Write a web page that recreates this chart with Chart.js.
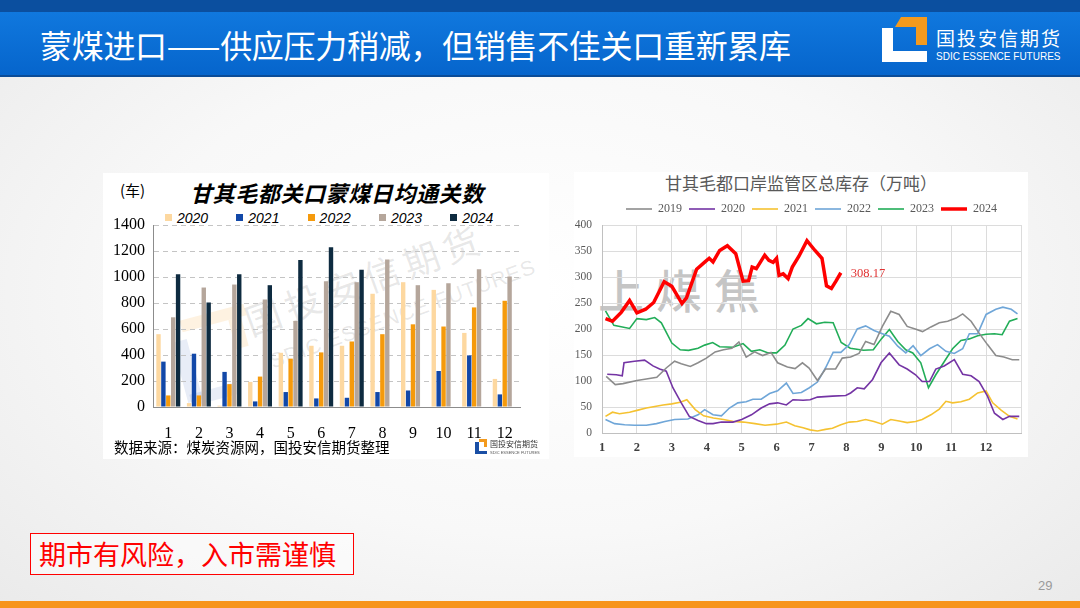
<!DOCTYPE html>
<html>
<head>
<meta charset="utf-8">
<script src="https://cdn.jsdelivr.net/npm/chart.js@4.4.1/dist/chart.umd.min.js"></script>
<style>
  body { margin: 0; width: 1080px; height: 608px; overflow: hidden; position: relative;
    font-family: "Noto Sans CJK SC", sans-serif;
    background: radial-gradient(ellipse 75% 80% at 50% 48%, #ffffff 0%, #f8f8f8 50%, #e8e8e8 100%); }
  .abs { position: absolute; }
  .hdrTop { left: 0; top: 0; width: 1080px; height: 12px; background: #0b4f9f; }
  .hdr { left: 0; top: 12px; width: 1080px; height: 63px; background: linear-gradient(#1078de, #0665cc); border-bottom: 2px solid #0a4c98; }
  .hdrTitle { left: 40px; top: 25px; color: #fff; font-size: 32px; line-height: 38px; white-space: nowrap; letter-spacing: -0.3px; }
  .panel { background: #fff; }
  .wm { color: rgba(110,110,110,0.16); white-space: nowrap; transform-origin: center; }
  .lg { position: absolute; top: 210px; height: 16px; white-space: nowrap;
    font-family: 'Liberation Sans'; font-style: italic; font-size: 14px; line-height: 16px; color: #000; }
  .lg i { display: inline-block; width: 7px; height: 7px; margin-right: 5px; vertical-align: 2px; }
</style>
</head>
<body>
<div class="abs hdrTop"></div>
<div class="abs hdr"></div>
<div class="abs hdrTitle">蒙煤进口——供应压力稍减，但销售不佳关口重新累库</div>

<!-- header logo -->
<div class="abs" style="left:882px;top:28px;width:11px;height:34px;background:#fff"></div>
<div class="abs" style="left:882px;top:51px;width:45px;height:11px;background:#fff"></div>
<div class="abs" style="left:895px;top:17px;width:32px;height:10px;background:#f39a1e;clip-path:polygon(6px 0,100% 0,100% 100%,0 100%)"></div>
<div class="abs" style="left:916px;top:17px;width:11px;height:28px;background:#f39a1e"></div>
<div class="abs" style="left:936px;top:26px;color:#fff;font-size:19px;line-height:24px;letter-spacing:2px;white-space:nowrap">国投安信期货</div>
<div class="abs" style="left:936px;top:49px;color:#fff;font-family:'Liberation Sans';font-size:11.5px;line-height:14px;white-space:nowrap;transform:scaleX(0.87);transform-origin:left">SDIC ESSENCE FUTURES</div>

<!-- left panel -->
<div class="abs panel" style="left:103px;top:173px;width:446px;height:286px"></div>
<div class="abs wm" style="left:238px;top:252px;font-size:36px;letter-spacing:6px;transform:rotate(-20deg)">国投安信期货</div>
<div class="abs wm" style="left:262px;top:302px;font-family:'Liberation Sans';font-size:21px;letter-spacing:1px;transform:rotate(-20deg)">SDIC ESSENCE FUTURES</div>
<div class="abs" style="left:180px;top:312px;width:66px;height:12px;background:rgba(245,160,40,0.14);transform:rotate(-15deg)"></div>
<div class="abs" style="left:232px;top:318px;width:13px;height:30px;background:rgba(245,160,40,0.14);transform:rotate(-15deg)"></div>
<div class="abs" style="left:180px;top:340px;width:15px;height:62px;background:rgba(30,80,180,0.10);transform:rotate(-15deg)"></div>
<div class="abs" style="left:190px;top:388px;width:50px;height:12px;background:rgba(30,80,180,0.10);transform:rotate(-15deg)"></div>
<div class="abs" style="left:120px;top:180px;font-size:15px;line-height:20px;color:#000">(车)</div>
<div class="abs" style="left:190px;top:178px;font-size:22px;line-height:28px;font-weight:bold;font-style:italic;letter-spacing:0.6px;color:#000;white-space:nowrap">甘其毛都关口蒙煤日均通关数</div>
<div id="passLegend"></div>
<canvas id="passChart" class="abs" width="446" height="240" style="left:103px;top:200px"></canvas>
<div class="abs" style="left:114px;top:437px;font-size:14.5px;line-height:20px;color:#000;white-space:nowrap">数据来源：煤炭资源网，国投安信期货整理</div>
<div class="abs" style="left:475px;top:442px;width:4px;height:12px;background:#1a4fa5"></div>
<div class="abs" style="left:475px;top:451px;width:12px;height:3px;background:#1a4fa5"></div>
<div class="abs" style="left:479px;top:439px;width:8px;height:3px;background:#f39a1e"></div>
<div class="abs" style="left:484px;top:439px;width:3px;height:8px;background:#f39a1e"></div>
<div class="abs" style="left:490px;top:439px;font-size:8px;line-height:10px;color:#333;white-space:nowrap">国投安信期货</div>
<div class="abs" style="left:490px;top:450px;font-family:'Liberation Sans';font-size:4px;line-height:5px;color:#555;white-space:nowrap">SDIC ESSENCE FUTURES</div>

<!-- right panel -->
<div class="abs panel" style="left:574px;top:172px;width:454px;height:285px"></div>
<div class="abs" style="left:598px;top:258px;font-size:46px;line-height:60px;font-weight:500;letter-spacing:12px;color:rgba(140,140,140,0.5);white-space:nowrap">上煤焦</div>
<div class="abs" style="left:574px;top:171px;width:454px;text-align:center;font-size:17px;line-height:24px;color:#595959;white-space:nowrap">甘其毛都口岸监管区总库存（万吨）</div>
<canvas id="stockChart" class="abs" width="454" height="261" style="left:574px;top:196px"></canvas>

<!-- footer -->
<div class="abs" style="left:30px;top:533px;width:322px;height:40px;border:1.5px solid #ff0000;background:rgba(255,255,255,0.5)"></div>
<div class="abs" style="left:39px;top:536px;font-size:27px;line-height:36px;color:#ff0000;white-space:nowrap">期市有风险，入市需谨慎</div>
<div class="abs" style="left:1038px;top:578px;font-family:'Liberation Sans';font-size:13px;color:#9a9a9a">29</div>
<div class="abs" style="left:0;top:601px;width:1080px;height:7px;background:#f7941d"></div>

<script>
// 日均通关数（车）
const months = ['1', '2', '3', '4', '5', '6', '7', '8', '9', '10', '11', '12'];
const passYears = ['2020', '2021', '2022', '2023', '2024'];
const pass2020 = [560, 30, 10, 193, 417, 471, 471, 871, 960, 901, 570, 216];
const pass2021 = [349, 410, 270, 43, 115, 66, 71, 115, 127, 277, 397, 97];
const pass2022 = [89, 89, 176, 234, 372, 420, 504, 560, 636, 619, 766, 817];
const pass2023 = [690, 919, 942, 827, 662, 967, 960, 1135, 937, 952, 1059, 1003];
const pass2024 = [1021, 804, 1021, 937, 1130, 1229, 1056, null, null, null, null, null];
const passColors = ['#fdd8a0', '#1248a8', '#f59a0c', '#b5a69b', '#0e2b40'];

// 监管区总库存（万吨），[月份位置, 库存]
const stockYears = ['2019', '2020', '2021', '2022', '2023', '2024'];
const stock2019 = [[1.12,109],[1.38,93],[1.6,95],[2.0,101],[2.27,104],[2.57,107],[2.84,125],[3.08,138],[3.27,133],[3.53,128],[3.75,135],[3.99,144],[4.24,156],[4.48,160],[4.72,163],[4.92,175],[5.13,146],[5.37,156],[5.6,149],[5.84,155],[6.03,135],[6.31,127],[6.53,124],[6.74,135],[6.93,125],[7.17,101],[7.4,123],[7.69,123],[7.88,144],[8.12,146],[8.36,153],[8.55,176],[8.79,170],[9.03,205],[9.27,234],[9.51,228],[9.74,205],[9.97,200],[10.18,195],[10.42,204],[10.66,212],[10.9,215],[11.14,221],[11.33,229],[11.57,215],[11.8,192],[12.04,170],[12.28,149],[12.51,146],[12.75,141],[12.95,141]];
const stock2020 = [[1.15,113],[1.41,112],[1.58,110],[1.63,135],[1.93,138],[2.22,140],[2.46,129],[2.65,123],[2.84,119],[3.03,87],[3.27,58],[3.5,32],[3.75,24],[3.99,18],[4.18,18],[4.42,21],[4.75,21],[5.0,26],[5.28,35],[5.56,48],[5.8,56],[6.03,58],[6.28,54],[6.47,64],[6.76,63],[6.96,64],[7.17,69],[7.6,71],[7.98,72],[8.12,77],[8.31,87],[8.51,85],[8.75,103],[8.99,135],[9.23,154],[9.51,131],[9.74,123],[9.98,112],[10.17,99],[10.38,99],[10.56,123],[10.8,129],[11.09,141],[11.33,113],[11.57,110],[11.8,99],[12.04,71],[12.24,38],[12.48,26],[12.67,32],[12.95,32]];
const stock2021 = [[1.1,32],[1.3,40],[1.5,37],[1.79,40],[2.03,44],[2.27,48],[2.51,51],[2.75,54],[3.0,56],[3.24,59],[3.43,64],[3.67,45],[3.91,33],[4.19,29],[4.48,26],[4.77,22],[5.05,21],[5.38,18],[5.67,15],[6.0,17],[6.28,21],[6.52,14],[6.76,10],[6.96,6],[7.17,4],[7.4,7],[7.6,9],[7.84,16],[8.08,21],[8.31,22],[8.55,26],[8.79,22],[9.03,17],[9.27,26],[9.51,23],[9.74,20],[9.98,22],[10.17,26],[10.42,35],[10.66,46],[10.85,61],[11.04,58],[11.28,60],[11.52,65],[11.76,77],[12.0,81],[12.19,58],[12.43,44],[12.67,32],[12.9,27]];
const stock2022 = [[1.1,26],[1.36,18],[1.65,16],[1.93,15],[2.27,15],[2.56,18],[2.8,22],[3.08,26],[3.46,27],[3.75,35],[3.94,45],[4.18,35],[4.42,33],[4.65,48],[4.89,58],[5.13,60],[5.32,65],[5.56,65],[5.8,76],[6.03,81],[6.28,96],[6.47,76],[6.71,78],[6.94,87],[7.17,98],[7.4,125],[7.62,155],[7.84,155],[8.08,170],[8.31,200],[8.55,206],[8.79,197],[9.03,191],[9.23,186],[9.47,167],[9.7,154],[9.91,168],[10.13,149],[10.38,162],[10.61,170],[10.85,157],[11.09,153],[11.33,162],[11.52,191],[11.76,191],[12.0,228],[12.28,238],[12.48,242],[12.72,238],[12.9,229]];
const stock2023 = [[1.1,235],[1.34,207],[1.79,201],[2.0,220],[2.27,218],[2.51,222],[2.7,212],[3.0,173],[3.24,160],[3.48,159],[3.75,163],[3.94,169],[4.17,174],[4.37,166],[4.75,165],[5.04,172],[5.28,157],[5.52,160],[5.76,154],[6.0,154],[6.24,169],[6.47,200],[6.71,207],[6.9,220],[7.14,210],[7.38,213],[7.62,212],[7.85,174],[8.11,163],[8.49,159],[8.77,160],[9.0,181],[9.23,199],[9.47,176],[9.7,160],[9.9,154],[10.13,135],[10.35,87],[10.56,112],[10.8,137],[11.04,162],[11.28,178],[11.52,181],[11.76,187],[12.0,190],[12.24,191],[12.46,189],[12.67,215],[12.9,220]];
const stock2024 = [[1.1,220],[1.3,215],[1.55,232],[1.79,255],[2.0,231],[2.25,238],[2.48,251],[2.78,291],[3.0,282],[3.29,249],[3.42,260],[3.71,315],[3.95,329],[4.07,336],[4.18,329],[4.37,351],[4.59,360],[4.83,345],[5.04,292],[5.2,293],[5.3,319],[5.42,316],[5.66,342],[5.78,332],[5.9,328],[6.0,336],[6.07,303],[6.19,306],[6.33,297],[6.45,319],[6.64,340],[6.87,370],[7.1,351],[7.3,336],[7.43,283],[7.57,278],[7.7,292],[7.84,308.17]];
const stockColors = ['#8c8c8c', '#7434a4', '#f5c231', '#6fa6d8', '#22ad58', '#ff0000'];
const stockWidths = [1.6, 1.6, 1.6, 1.6, 1.6, 3.5];

const serif = 'Liberation Serif';

// 左图图例
const legendBox = document.getElementById('passLegend');
passYears.forEach((y, i) => {
  const d = document.createElement('div');
  d.className = 'lg';
  d.style.left = (165 + i * 71.3) + 'px';
  d.innerHTML = '<i style="background:' + passColors[i] + '"></i>' + y;
  legendBox.appendChild(d);
});

const passData = [pass2020, pass2021, pass2022, pass2023, pass2024];
new Chart(document.getElementById('passChart'), {
  type: 'bar',
  data: {
    labels: months,
    datasets: passYears.map((y, i) => ({
      label: y,
      data: passData[i],
      backgroundColor: passColors[i],
      categoryPercentage: 0.8,
      barPercentage: 0.9
    }))
  },
  options: {
    responsive: false,
    animation: false,
    layout: { padding: { left: 0, right: 29, top: 25, bottom: 0 } },
    plugins: {
      legend: { display: false },
      tooltip: { enabled: false }
    },
    scales: {
      x: {
        grid: { display: false },
        border: { color: '#8c8c8c' },
        ticks: { color: '#000', padding: 9, font: { family: serif, size: 16 } },
        afterFit: s => { s.height = 33; }
      },
      y: {
        min: 0, max: 1400,
        ticks: { stepSize: 200, padding: 8, color: '#000', font: { family: serif, size: 16 },
          callback: v => String(v) },
        grid: { color: '#c4c4c4', drawTicks: false },
        border: { color: '#8c8c8c', dash: [5, 4] },
        afterFit: s => { s.width = 50; }
      }
    }
  }
});

// 2024 最新值标注
const lastLabel = {
  id: 'lastLabel',
  afterDatasetsDraw(chart) {
    const idx = chart.data.datasets.length - 1;
    const meta = chart.getDatasetMeta(idx);
    const pt = meta.data[meta.data.length - 1];
    const v = stock2024[stock2024.length - 1][1];
    const ctx = chart.ctx;
    ctx.save();
    ctx.font = '12.5px ' + serif;
    ctx.fillStyle = '#e03232';
    ctx.textAlign = 'left';
    ctx.textBaseline = 'middle';
    ctx.fillText(v.toFixed(2), pt.x + 10, pt.y + 1);
    ctx.restore();
  }
};

const stockData = [stock2019, stock2020, stock2021, stock2022, stock2023, stock2024];
new Chart(document.getElementById('stockChart'), {
  type: 'line',
  data: {
    datasets: stockYears.map((y, i) => ({
      label: y,
      data: stockData[i].map(p => ({ x: p[0], y: p[1] })),
      borderColor: stockColors[i],
      backgroundColor: stockColors[i],
      borderWidth: stockWidths[i],
      pointRadius: 0,
      tension: 0,
      order: i === 5 ? -1 : i
    }))
  },
  plugins: [lastLabel],
  options: {
    responsive: false,
    animation: false,
    layout: { padding: { left: 0, right: 7, top: 0, bottom: 0 } },
    plugins: {
      legend: {
        fullSize: false,
        labels: { usePointStyle: true, pointStyle: 'line', pointStyleWidth: 26, boxWidth: 26,
          padding: 7, color: '#595959', font: { family: serif, size: 12 },
          sort: (a, b) => a.datasetIndex - b.datasetIndex }
      },
      tooltip: { enabled: false }
    },
    scales: {
      x: {
        type: 'linear', min: 1, max: 13,
        ticks: { stepSize: 1, padding: 7, color: '#404040', font: { family: serif, size: 12.5, weight: 'bold' },
          callback: v => (v === 13 ? '' : v) },
        grid: { color: '#dcdcdc', drawTicks: false },
        border: { color: '#c0c0c0' },
        afterFit: s => { s.height = 24; }
      },
      y: {
        min: 0, max: 400,
        ticks: { stepSize: 50, padding: 10, color: '#595959', font: { family: serif, size: 11.5 } },
        grid: { color: '#dcdcdc', drawTicks: false },
        border: { color: '#c0c0c0' },
        afterFit: s => { s.width = 28; }
      }
    }
  }
});
</script>
</body>
</html>
